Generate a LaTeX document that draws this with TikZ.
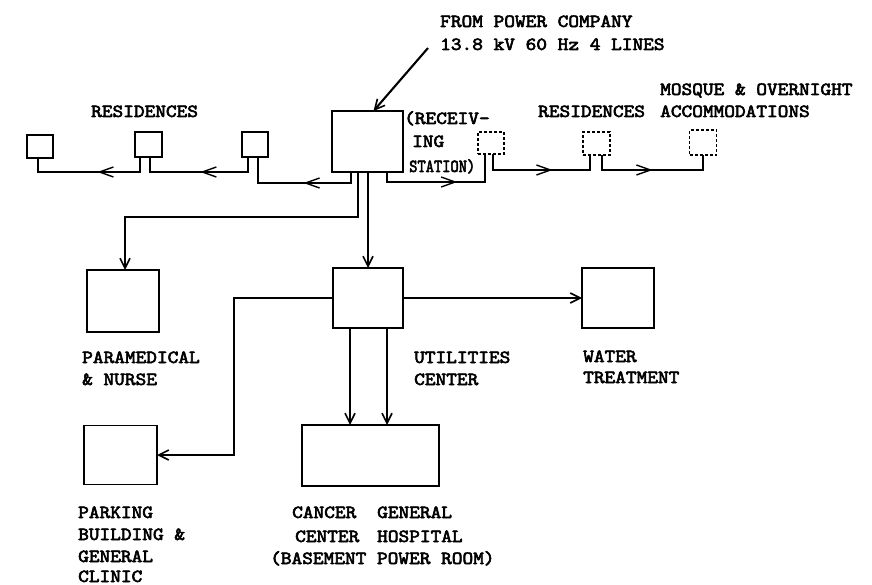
\documentclass[tikz,border=0pt]{standalone}
\usepackage{fontspec}
\usepackage{graphicx}
\newfontfamily\tw{lmmono10-regular}[Extension=.otf,FakeBold=3]
\newcommand\wtx[1]{\scalebox{1.1}[1]{#1}}
\usetikzlibrary{arrows.meta,decorations.markings}
\begin{document}
\begin{tikzpicture}[x=1pt,y=-1pt,
  bx/.style={draw,line width=1.8pt,inner sep=0pt,outer sep=0pt},
  dbx/.style={draw,line width=1.2pt,densely dashed,inner sep=0pt,outer sep=0pt},
  ln/.style={line width=2.1pt},
  tip/.style={-{Straight Barb[length=10pt,width=10pt,line width=1.6pt]}},
  mid/.style={postaction={decorate},decoration={markings,
     mark=at position #1 with {\arrow{Straight Barb[length=14pt,width=10pt,line width=1.4pt]}}}},
  lbl/.style={anchor=base west,inner sep=0pt,font=\tw\fontsize{18.5}{22}\selectfont}]
\useasboundingbox (0,0) rectangle (872,585);
% boxes
\node[bx,minimum width=26pt,minimum height=23pt] (r1) at (40,146.5) {};
\node[bx,minimum width=27pt,minimum height=25pt] (r2) at (148.5,144.5) {};
\node[bx,minimum width=26pt,minimum height=25pt] (r3) at (255,144.5) {};
\node[bx,minimum width=71pt,minimum height=61pt] (st) at (367.5,141.5) {};
\node[dbx,minimum width=26pt,minimum height=22pt] (r4) at (491,143) {};
\node[dbx,minimum width=27pt,minimum height=23pt] (r5) at (596.5,143.5) {};
\node[dbx,minimum width=27pt,minimum height=25pt] (r6) at (703,142.5) {};
\node[bx,minimum width=72pt,minimum height=62pt] (pm) at (123,301) {};
\node[bx,minimum width=70pt,minimum height=60pt] (ut) at (368,298) {};
\node[bx,minimum width=72pt,minimum height=60pt] (wt) at (618,298) {};
\node[bx,minimum width=73pt,minimum height=59pt] (pk) at (120.5,455) {};
\node[bx,minimum width=137pt,minimum height=61pt] (gh) at (370.5,455.5) {};
% residence feeders
\draw[ln,mid=0.45] ([xshift=-16.5pt]st.south) |- (258,183) -- ([xshift=3pt]r3.south);
\draw[ln,mid=0.49] ([xshift=-7pt]r3.south) |- (150,172) -- ([xshift=1.5pt]r2.south);
\draw[ln,mid=0.44] ([xshift=-8.5pt]r2.south) |- (38,172) -- ([xshift=-2pt]r1.south);
\draw[ln,mid=0.59] ([xshift=19.5pt]st.south) |- (485,182) -- ([xshift=-6pt]r4.south);
\draw[ln,mid=0.59] ([xshift=2pt]r4.south) |- (590,170) -- ([xshift=-6.5pt]r5.south);
\draw[ln,mid=0.5] ([xshift=5.5pt]r5.south) |- (703,170) -- (r6.south);
% main feeders
\coordinate (pc) at (428,48);
\draw[ln,tip] (pc) -- ([xshift=6pt]st.north);
\draw[ln,tip] ([xshift=-9.5pt]st.south) |- (125,217) -- ([xshift=2pt]pm.north);
\draw[ln,tip] (st.south -| ut.north) -- (ut.north);
\draw[ln,tip] (ut.west) -| (234,455) -- (pk.east);
\draw[ln,tip] (ut.east) -- (ut.east -| wt.west);
\draw[ln,tip] ([xshift=-18pt]ut.south) -- ([xshift=-18pt]ut.south |- gh.north);
\draw[ln,tip] ([xshift=19pt]ut.south) -- ([xshift=19pt]ut.south |- gh.north);
% labels
\node[lbl] (t1) at (440,27) {\wtx{FROM POWER COMPANY}};
\node[lbl] (t2) at (440,50) {\wtx{13.8 kV 60 Hz 4 LINES}};
\node[lbl] (t3) at (91,117) {\wtx{RESIDENCES}};
\node[lbl] (t4) at (404,124) {\wtx{(RECEIV-}};
\node[lbl] (t5) at (412,147) {\wtx{ING}};
\node[lbl] (t6) at (409,172) {\scalebox{0.85}[1]{STATION)}};
\node[lbl] (t7) at (538,117) {\wtx{RESIDENCES}};
\node[lbl] (t8) at (660,95) {\wtx{MOSQUE \& OVERNIGHT}};
\node[lbl] (t9) at (660,117) {\wtx{ACCOMMODATIONS}};
\node[lbl] (t10) at (82,363) {\wtx{PARAMEDICAL}};
\node[lbl] (t11) at (82,385) {\wtx{\& NURSE}};
\node[lbl] (t12) at (414,363) {\wtx{UTILITIES}};
\node[lbl] (t13) at (414,385) {\wtx{CENTER}};
\node[lbl] (t14) at (583,362) {\wtx{WATER}};
\node[lbl] (t15) at (583,383) {\wtx{TREATMENT}};
\node[lbl] (t16) at (78,518) {\wtx{PARKING}};
\node[lbl] (t17) at (78,540) {\wtx{BUILDING \&}};
\node[lbl] (t18) at (78,562) {\wtx{GENERAL}};
\node[lbl] (t19) at (78,582) {\wtx{CLINIC}};
\node[lbl] (t20) at (292,518) {\wtx{CANCER}};
\node[lbl] (t21) at (377,518) {\wtx{GENERAL}};
\node[lbl] (t22) at (295,542) {\wtx{CENTER}};
\node[lbl] (t23) at (377,542) {\wtx{HOSPITAL}};
\node[lbl] (t24) at (270,564) {\wtx{(BASEMENT POWER ROOM)}};
\end{tikzpicture}
\end{document}
